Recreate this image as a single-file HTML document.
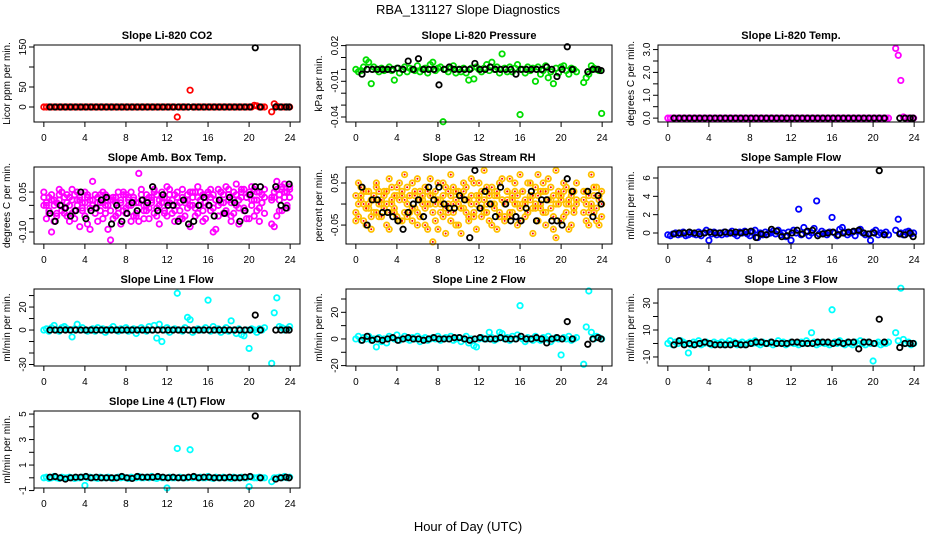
<!DOCTYPE html>
<html><head><meta charset="utf-8">
<style>
html,body{margin:0;padding:0;background:#fff;}
svg{display:block;font-family:"Liberation Sans",sans-serif;}
</style></head>
<body>
<svg id="fig" width="936" height="540" viewBox="0 0 936 540">
<text x="468" y="14" text-anchor="middle" font-size="13">RBA_131127  Slope Diagnostics</text>
<text x="468" y="531" text-anchor="middle" font-size="13">Hour of Day (UTC)</text>
</svg>
<script>
// shared hours
const hoursColor = [0,0.25,0.5,0.75,1,1.25,1.5,1.75,2,2.25,2.5,2.75,3,3.25,3.5,3.75,4,4.25,4.5,4.75,5,5.25,5.5,5.75,6,6.25,6.5,6.75,7,7.25,7.5,7.75,8,8.25,8.5,8.75,9,9.25,9.5,9.75,10,10.25,10.5,10.75,11,11.25,11.5,11.75,12,12.25,12.5,12.75,13,13.25,13.5,13.75,14,14.25,14.5,14.75,15,15.25,15.5,15.75,16,16.25,16.5,16.75,17,17.25,17.5,17.75,18,18.25,18.5,18.75,19,19.25,19.5,19.75,20,20.25,20.5,20.75,21,21.25,21.5,22.2,22.45,22.7,22.95,23.2,23.45,23.7,23.95];
const hoursBlack = [0.6,1.1,1.6,2.1,2.6,3.1,3.6,4.1,4.6,5.1,5.6,6.1,6.6,7.1,7.6,8.1,8.6,9.1,9.6,10.1,10.6,11.1,11.6,12.1,12.6,13.1,13.6,14.1,14.6,15.1,15.6,16.1,16.6,17.1,17.6,18.1,18.6,19.1,19.6,20.1,20.6,21.1,22.6,23.1,23.6,23.9];
const xTicks = [0,4,8,12,16,20,24];

// Panel 1: CO2
const co2Color = [0,0,0,0,0,0,0,0,0,0, 0,0,0,0,0,0,0,0,0,0, 0,0,0,0,0,0,0,0,0,0, 0,0,0,0,0,0,0,0,0,0, 0,0,0,0,0,0,0,0,0,0, 0,0,-25,0,0,0,0,42,0,0, 0,0,0,0,0,0,0,0,0,0, 0,0,0,0,0,0,0,0,0,0, 0,0,4,3,0,0,0,-12,8,2, 0,0,0,0,0];
const co2Black = [0,0,0,0,0,0,0,0,0,0, 0,0,0,0,0,0,0,0,0,0, 0,0,0,0,0,0,0,0,0,0, 0,0,0,0,0,0,0,0,0,0, 148,0,0,0,0,0];
const co2Ticks = [0,50,100,150];
const co2Labels = ["0","50","","150"];
// Panel 2: Pressure
const presColor = [0,-0.002,-0.001,0.002,0.008,0.006,-0.012,0.002,0,-0.002, 0.001,-0.001,0,0.002,-0.001,-0.009,0.001,-0.003,0,0.002, -0.002,0.001,0,-0.001,0.003,-0.002,0,0.001,-0.003,0.004, 0.006,-0.001,0.001,0.002,-0.044,0,-0.002,0.001,0.003,-0.003, 0,-0.002,0.001,-0.003,-0.009,0.001,-0.008,0.002,0,-0.002, 0.001,0.004,-0.001,0.006,0,0.002,-0.003,0.013,0.001,-0.002, 0.002,-0.002,0.001,0.004,-0.038,0,-0.003,0.002,-0.001,0.001, -0.010,0.002,-0.004,-0.001,0.003,-0.007,-0.002,-0.012,0.001,-0.003, 0.002,0.003,-0.001,-0.004,0.001,0,-0.002,-0.011,-0.007,-0.004, 0.003,0.001,0,-0.001,-0.037];
const presBlack = [-0.004,0,0,0,0,0,0,0.001,0,0.007, 0,0.009,0,0,0,-0.013,0,0.002,0,0, 0,0,0.005,0,0,0.002,0,0,0,0, -0.004,0,0,0,0,0,0.002,0,-0.006,0, 0.019,0,-0.002,0,0,-0.001];
const presTicks = [0.02,0.01,0,-0.01,-0.02,-0.03,-0.04];
const presLabels = ["0.02","","","-0.01","","","-0.04"];
// Panel 3: Li-820 Temp
const tempColor = [0,0,0,0,0,0,0,0,0,0, 0,0,0,0,0,0,0,0,0,0, 0,0,0,0,0,0,0,0,0,0, 0,0,0,0,0,0,0,0,0,0, 0,0,0,0,0,0,0,0,0,0, 0,0,0,0,0,0,0,0,0,0, 0,0,0,0,0,0,0,0,0,0, 0,0,0,0,0,0,0,0,0,0, 0,0,0,0,0,0,0,3.05,2.75,1.65, 0.05,0,0,0,0];
const tempBlack = [0,0,0,0,0,0,0,0,0,0, 0,0,0,0,0,0,0,0,0,0, 0,0,0,0,0,0,0,0,0,0, 0,0,0,0,0,0,0,0,0,0, 0,0,0,0,0,0];
const tempTicks = [0,0.5,1,1.5,2,2.5,3];
const tempLabels = ["0.0","","1.0","","2.0","","3.0"];
// Panel 4: Amb Box Temp
const ambColorA = [0.05,0.0,-0.03,0.02,-0.06,0.01,0.04,-0.02,0.03,-0.04, 0.0,0.06,-0.05,0.02,0.03,-0.01,0.05,-0.07,0.02,0.09, -0.03,0.01,0.04,-0.05,0.0,0.03,-0.13,0.02,-0.04,0.05, 0.01,-0.02,0.04,0.0,-0.06,0.03,-0.03,0.12,0.02,-0.05, 0.04,-0.01,0.03,0.06,-0.04,0.0,0.05,-0.02,0.07,0.01, -0.03,0.04,0.0,-0.05,0.06,0.02,-0.01,0.05,0.03,-0.04, 0.07,0.0,-0.06,0.03,0.05,-0.02,0.04,-0.09,0.06,0.01, -0.03,0.07,0.02,-0.04,0.05,0.08,-0.01,0.03,0.06,-0.05, 0.04,0.07,0.02,-0.02,0.05,0.01,-0.03,0.03,-0.08,0.09, 0.02,0.06,0.08,-0.01,0.07];
const ambColorB = [0.0,-0.05,0.03,-0.1,0.02,-0.04,0.06,0.0,-0.03,0.04, -0.06,0.02,-0.02,0.05,-0.08,0.01,-0.04,0.03,-0.09,0.0, 0.04,-0.06,0.01,0.05,-0.03,-0.09,0.02,-0.05,0.03,-0.01, -0.07,0.04,-0.03,0.02,0.05,-0.04,0.01,-0.06,0.06,-0.02, 0.0,-0.05,0.02,-0.03,0.04,-0.07,0.01,0.03,-0.04,0.06, 0.02,-0.06,0.03,-0.02,-0.05,0.01,0.04,-0.08,0.0,0.05, -0.03,0.02,0.04,-0.05,0.0,0.03,-0.1,0.02,-0.04,0.05, 0.01,-0.03,0.04,-0.06,0.02,0.0,-0.07,0.05,-0.02,0.03, -0.05,0.02,-0.04,0.05,-0.06,0.01,0.03,-0.07,0.03,-0.04, 0.04,-0.02,0.05,0.0,0.03];
const ambColorC = [0.03,0.01,-0.02,0.04,0.0,-0.03,0.02,0.05,-0.01,0.01, 0.03,-0.03,0.04,0.0,0.02,-0.02,0.01,0.04,-0.01,0.02, -0.01,0.03,-0.02,0.01,0.04,0.0,-0.02,0.03,0.01,-0.03, 0.02,0.05,-0.01,0.03,0.0,0.02,-0.04,0.01,0.04,0.0, -0.02,0.03,0.01,0.05,-0.01,0.02,0.03,-0.03,0.01,0.04, 0.0,-0.02,0.05,0.01,0.03,-0.04,0.02,0.0,0.05,-0.01, 0.03,0.05,-0.02,0.01,0.04,0.06,-0.01,0.02,0.0,0.05, 0.04,-0.02,0.06,0.01,-0.03,0.04,0.02,0.06,-0.01,0.03, 0.05,0.0,0.06,0.02,-0.01,0.04,0.06,0.02,0.05,0.06, -0.02,0.07,0.03,0.05,0.06];
const ambBlack = [-0.03,-0.06,0.0,-0.01,-0.04,-0.02,0.05,-0.05,-0.02,-0.01, 0.02,0.03,-0.07,0.0,-0.06,-0.03,0.01,-0.02,0.02,0.01, 0.07,-0.02,0.04,0.0,0.0,-0.06,0.02,-0.07,-0.06,0.0, 0.03,0.0,-0.04,0.02,-0.03,0.03,0.01,-0.06,-0.02,0.04, 0.07,0.07,0.07,0.0,-0.01,0.08];
const ambTicks = [0.05,0,-0.05,-0.10];
const ambLabels = ["0.05","","","-0.10"];
// Panel 5: Gas Stream RH
const rhColorA = [-0.02,0.05,0.01,-0.04,0.03,-0.01,-0.06,0.02,0.04,-0.03, 0.0,0.03,-0.05,0.06,0.01,-0.02,0.04,-0.04,0.02,0.07, -0.03,0.02,0.05,-0.01,-0.05,0.03,0.0,0.04,-0.06,0.06, 0.02,-0.04,0.05,0.01,-0.03,0.04,-0.02,0.07,0.0,-0.05, 0.03,-0.07,0.05,0.01,-0.04,0.06,-0.02,0.02,0.05,-0.03, 0.08,0.0,-0.04,0.04,0.02,-0.06,0.05,0.01,-0.03,0.03, 0.06,-0.02,0.03,-0.05,0.07,0.0,-0.03,0.05,0.02,-0.07, 0.04,0.07,-0.01,0.03,-0.05,0.06,0.01,-0.03,0.08,0.02, -0.04,0.05,0.0,-0.06,0.03,-0.02,0.05,0.01,-0.04,0.02, 0.07,-0.02,0.04,-0.05,0.03];
const rhColorB = [0.02,-0.03,0.04,0.0,-0.05,0.03,0.01,-0.02,0.05,0.0, -0.03,0.02,0.0,-0.06,0.04,-0.01,0.02,0.05,-0.04,0.01, 0.04,-0.02,-0.04,0.02,0.06,-0.03,0.01,-0.05,0.03,0.0, -0.02,0.03,-0.06,0.0,0.05,-0.01,0.03,-0.04,0.04,0.01, -0.05,0.02,-0.01,0.04,-0.03,0.0,0.05,-0.06,0.01,0.03, -0.02,0.04,0.02,-0.05,0.0,0.03,-0.02,0.06,-0.04,0.01, -0.03,0.02,0.05,0.0,-0.04,0.03,0.01,-0.02,0.05,-0.01, 0.0,-0.04,0.03,0.05,-0.02,0.01,0.04,-0.06,0.0,0.03, 0.02,-0.03,0.04,0.01,-0.05,0.03,0.0,-0.02,0.03,-0.05, -0.01,0.04,-0.04,0.02,0.0];
const rhColorC = [-0.04,0.0,0.02,0.03,-0.01,0.0,-0.03,0.01,-0.02,0.03, 0.01,-0.01,0.03,-0.02,0.0,0.02,-0.03,0.01,0.03,-0.02, 0.0,0.02,-0.01,0.03,-0.02,0.01,0.02,-0.01,0.0,0.02, -0.09,0.0,0.01,-0.02,0.02,-0.07,0.0,0.02,-0.02,0.03, 0.0,-0.01,0.03,-0.02,0.01,0.02,-0.03,0.0,0.02,-0.01, 0.01,-0.02,0.03,0.0,-0.01,0.02,-0.03,0.01,0.0,0.03, -0.02,0.01,0.0,0.02,-0.01,0.03,0.0,-0.02,0.01,0.02, -0.01,0.02,0.0,-0.02,0.03,0.01,-0.01,0.02,-0.08,0.0, 0.01,0.03,-0.02,0.0,0.02,-0.01,0.01,0.03,0.0,-0.02, 0.0,0.02,-0.01,0.01,-0.03];
const rhBlack = [0.04,-0.05,0.01,0.01,-0.02,-0.02,-0.03,-0.04,-0.06,-0.02, 0.0,0.01,-0.03,0.04,0.01,0.04,0.0,-0.01,-0.01,0.02, 0.01,-0.08,0.08,-0.01,0.03,0.0,-0.03,0.04,0.0,-0.04, -0.03,-0.04,-0.01,0.03,-0.04,0.01,0.01,-0.04,-0.04,-0.05, 0.06,0.03,0.03,-0.03,0.02,0.0];
const rhTicks = [0.05,0,-0.05];
const rhLabels = ["0.05","","-0.05"];
// Panel 6: Sample Flow
const sfColor = [-0.2,-0.3,-0.1,0.0,-0.2,-0.1,0.1,-0.3,-0.2,0.0, -0.1,-0.2,0.1,-0.3,0.0,0.3,-0.8,-0.1,0.1,-0.2, 0.0,-0.2,0.1,-0.1,0.0,0.2,-0.1,-0.3,0.1,0.0, 0.2,-0.1,-0.3,0.1,0.3,-0.5,0.0,-0.2,0.1,-0.1, 0.0,0.2,-0.1,0.3,-0.2,0.0,-0.4,0.1,-0.8,0.3, 0.0,2.6,-0.2,0.6,0.1,-0.3,0.0,0.5,3.5,-0.1, 0.2,0.0,-0.2,0.1,1.7,0.0,-0.3,0.4,0.6,0.1, -0.2,0.0,0.1,-0.3,0.2,0.4,0.0,-0.2,-0.1,-0.8, 0.1,0.3,-0.2,0.0,-0.1,0.1,-0.2,0.3,1.5,0.0, -0.2,0.1,0.2,-0.1,0.0];
const sfBlack = [-0.1,0.0,0.0,0.1,0.0,-0.1,0.0,0.1,0.0,0.0, 0.1,0.0,0.1,0.0,0.1,0.2,-0.5,-0.1,-0.2,0.4, 0.2,-0.4,-0.3,0.0,0.3,-0.1,0.2,0.3,-0.3,-0.1, 0.0,0.1,-0.2,0.0,0.1,0.2,0.3,0.0,-0.1,0.0, 6.8,-0.2,-0.1,-0.2,0.0,-0.4];
const sfTicks = [0,2,4,6];
const sfLabels = ["0","2","4","6"];
// Panel 7: Line 1
const l1Color = [0,1,-1,2,4,0,-1,2,3,1, 0,-6,1,5,0,2,0,-1,0,1, -1,2,0,1,-2,0,1,3,0,-1, 1,0,2,-1,0,1,-3,0,2,0, -1,3,0,4,-7,5,-10,0,2,-2, 0,1,32,0,-1,2,11,9,-2,0, 1,0,0,2,26,-1,3,0,1,-2, 0,2,-1,8,0,-3,1,-4,-5,0, -16,1,0,-2,1,0,2,-29,15,28, 3,2,0,1,3];
const l1Black = [0,0,0,0,0,0,0,0,0,0, 0,0,0,0,0,0,0,0,0,0, 0,0,0,0,0,0,0,0,0,0, 0,0,0,0,0,0,0,0,0,0, 13,0,0,0,0,0];
const l1Ticks = [-30,-20,-10,0,10,20,30];
const l1Labels = ["-30","","","0","","20",""];
// Panel 8: Line 2
const l2Color = [0,2,-1,1,0,2,-1,0,-6,1, -2,0,-3,2,1,0,3,-1,0,2, 0,-1,1,0,2,-2,0,1,-1,0, 1,0,2,-1,0,1,0,2,-1,0, 1,-2,0,2,-3,0,-5,-6,0,1, 0,0,5,1,-1,0,5,4,0,1, -1,2,0,3,25,0,-2,1,0,-1, 2,0,-1,1,0,2,-2,0,1,0, -12,1,0,2,-1,0,1,-19,9,36, 5,0,2,1,0];
const l2Black = [-1,2,-1,0,-1,0,1,-1,0,1, 0,0,-1,0,1,0,0,0,1,1, 0,-1,0,1,0,0,0,1,0,0, 0,2,0,0,1,0,-3,0,1,0, 13,0,-4,0,1,0];
const l2Ticks = [-20,-10,0,10,20,30];
const l2Labels = ["-20","","0","","20",""];
// Panel 9: Line 3
const l3Color = [0,2,-1,1,0,2,1,0,-7,-1, 1,0,2,-1,0,1,0,-1,1,0, 0,1,-1,0,2,0,1,-1,0,1, -1,0,1,0,2,0,-1,1,0,0, 1,-1,0,2,0,1,-1,0,1,0, 0,-1,1,0,2,0,8,1,-1,0, 1,0,0,-1,25,1,0,2,0,-1, 1,0,-1,1,0,2,0,-1,1,0, -13,0,1,-1,0,0,1,8,2,41, 3,0,1,-1,0];
const l3Black = [-1,2,-1,0,-1,0,1,0,-1,-1, -1,-1,0,-1,-1,0,1,1,0,1, 0,0,0,1,1,0,0,0,1,1, 1,0,1,0,1,1,-4,1,1,0, 18,1,-3,0,0,0];
const l3Ticks = [-10,0,10,20,30];
const l3Labels = ["-10","","10","","30"];
// Panel 10: Line 4
const l4Color = [0,0.05,-0.05,0,0.1,0,-0.05,0.05,0,0, 0.05,0,-0.05,0,0,0.05,-0.6,0,0.05,0, 0,-0.05,0.05,0,0,0.05,0,-0.05,0,0.05, 0,0.05,0,-0.05,0.05,0,0,0.1,0,0, 0.05,0,0.1,0,-0.05,0.05,0,0,-0.8,0.05, 0,0,2.3,0.05,0,0,0,2.2,0,0.05, 0,0.05,0,0,0.1,0,-0.05,0.05,0,0, 0.05,0,0,-0.05,0.05,0,0,0.05,0,0, -0.7,0.05,0,0,0.05,0,0,-0.3,0,0, 0.05,0,0.1,0,0.05];
const l4Black = [0.05,0.1,0,-0.1,0,0.05,0.05,0.1,0,0.05, 0,0,0,0,0.1,0,-0.05,0.1,0.05,0.05, 0.05,0.1,0.05,0,0.05,0,0,0.05,0.1,0, 0.05,0.05,0,0,0,0.05,0,0,0.05,0.1, 4.85,0,-0.1,0,0.05,0];
const l4Ticks = [-1,0,1,2,3,4,5];
const l4Labels = ["-1","","1","","3","","5"];

const NS = "http://www.w3.org/2000/svg";
const svg = document.getElementById("fig");
function mk(tag, attrs, parent){
  const e = document.createElementNS(NS, tag);
  for (const k in attrs) e.setAttribute(k, attrs[k]);
  (parent||svg).appendChild(e);
  return e;
}
const colLeft = [34, 346, 658];
const rowTop = [45, 167, 289, 411];
const boxW = 266, boxH = 77;

const panels = [
 {key:"co2", title:"Slope Li-820 CO2", ylab:"Licor ppm per min.", r:0, c:0, ymin:-37.5, ymax:155, col:"#ff0000", series:[co2Color], black:co2Black, ticks:co2Ticks, labels:co2Labels},
 {key:"pressure", title:"Slope Li-820 Pressure", ylab:"kPa per min.", r:0, c:1, ymin:-0.0442, ymax:0.0205, col:"#00dd00", series:[presColor], black:presBlack, ticks:presTicks, labels:presLabels},
 {key:"li820-temp", title:"Slope Li-820 Temp.", ylab:"degrees C per min.", r:0, c:2, ymin:-0.17, ymax:3.2, col:"#ff00ff", series:[tempColor], black:tempBlack, ticks:tempTicks, labels:tempLabels},
 {key:"amb-box-temp", title:"Slope Amb. Box Temp.", ylab:"degrees C per min.", r:1, c:0, ymin:-0.145, ymax:0.144, col:"#ff00ff", series:[ambColorA,ambColorB,ambColorC], black:ambBlack, ticks:ambTicks, labels:ambLabels},
 {key:"gas-stream-rh", title:"Slope Gas Stream RH", ylab:"percent per min.", r:1, c:1, ymin:-0.095, ymax:0.088, col:"#ffc000", dot:true, series:[rhColorA,rhColorB,rhColorC], black:rhBlack, ticks:rhTicks, labels:rhLabels},
 {key:"sample-flow", title:"Slope Sample Flow", ylab:"ml/min per min.", r:1, c:2, ymin:-1.2, ymax:7.2, col:"#0000ff", series:[sfColor], black:sfBlack, ticks:sfTicks, labels:sfLabels},
 {key:"line1-flow", title:"Slope Line 1 Flow", ylab:"ml/min per min.", r:2, c:0, ymin:-31.3, ymax:35.7, col:"#00ffff", series:[l1Color], black:l1Black, ticks:l1Ticks, labels:l1Labels},
 {key:"line2-flow", title:"Slope Line 2 Flow", ylab:"ml/min per min.", r:2, c:1, ymin:-20.3, ymax:37.5, col:"#00ffff", series:[l2Color], black:l2Black, ticks:l2Ticks, labels:l2Labels},
 {key:"line3-flow", title:"Slope Line 3 Flow", ylab:"ml/min per min.", r:2, c:2, ymin:-16.7, ymax:40.4, col:"#00ffff", series:[l3Color], black:l3Black, ticks:l3Ticks, labels:l3Labels},
 {key:"line4-flow", title:"Slope Line 4 (LT) Flow", ylab:"ml/min per min.", r:3, c:0, ymin:-0.8, ymax:5.24, col:"#00ffff", series:[l4Color], black:l4Black, ticks:l4Ticks, labels:l4Labels}
];

panels.forEach(p => {
  const L = colLeft[p.c], T = rowTop[p.r], R = L + boxW, B = T + boxH;
  const xs = h => L + (h + 0.96) / 25.92 * boxW;
  const ys = v => B - (v - p.ymin) / (p.ymax - p.ymin) * boxH;
  const g = mk("g", {});
  
  

  const t = mk("text", {x: L + boxW/2, y: T - 6, "text-anchor":"middle", "font-size":"11", "font-weight":"bold"}, g);
  t.textContent = p.title;
  
  

  const yl = mk("text", {x: 0, y: 0, "text-anchor":"middle", "font-size":"10", transform:`translate(${L-24},${T+boxH/2}) rotate(-90)`}, g);
  yl.textContent = p.ylab;
  
  

  p.series.forEach(arr => {
    arr.forEach((v, i) => {
      const cx = xs(hoursColor[i]), cy = ys(v);
      const c = mk("circle", {cx, cy, r: 2.7, fill: "none", stroke: p.col, "stroke-width": 1.8}, g);
      
      
      if (p.dot) {
        const d = mk("circle", {cx, cy, r: 1, fill: "#ff0000"}, g);
        
        
      }
    });
  });
  p.black.forEach((v, i) => {
    const c = mk("circle", {cx: xs(hoursBlack[i]), cy: ys(v), r: 2.7, fill: "none", stroke: "#000", "stroke-width": 1.8}, g);
    
    
  });

  const box = mk("rect", {x: L, y: T, width: boxW, height: boxH, fill: "none", stroke: "#000", "stroke-width": 1}, g);
  
  

  const xa = mk("line", {x1: xs(xTicks[0]), x2: xs(xTicks[xTicks.length-1]), y1: B, y2: B, stroke: "#000"}, g);
  
  
  xTicks.forEach(h => {
    const tk = mk("line", {x1: xs(h), x2: xs(h), y1: B, y2: B + 5, stroke: "#000"}, g);
    
    
    const lb = mk("text", {x: xs(h), y: B + 19, "text-anchor": "middle", "font-size": "10"}, g);
    lb.textContent = h;
    
    
  });
  const ya = mk("line", {x1: L, x2: L, y1: ys(Math.min(...p.ticks)), y2: ys(Math.max(...p.ticks)), stroke: "#000"}, g);
  
  
  p.ticks.forEach((v, i) => {
    const yy = ys(v);
    const tk = mk("line", {x1: L - 5, x2: L, y1: yy, y2: yy, stroke: "#000"}, g);
    
    
    if (p.labels[i]) {
      const lb = mk("text", {x: 0, y: 0, "text-anchor": "middle", "font-size": "10", transform: `translate(${L-8},${yy}) rotate(-90)`}, g);
      lb.textContent = p.labels[i];
      
      
    }
  });
});
</script>
</body></html>
